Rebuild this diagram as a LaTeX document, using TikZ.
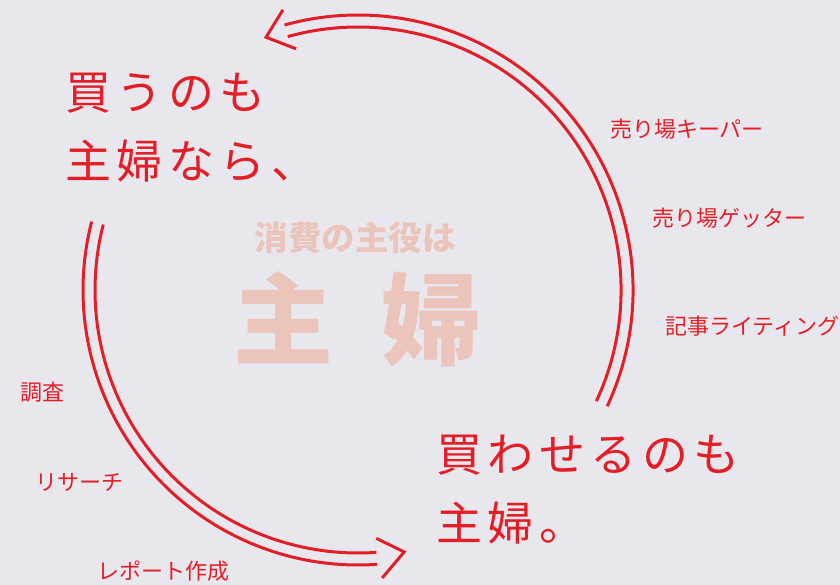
\documentclass[tikz,border=0pt]{standalone}
\usepackage{fontspec}
\newfontfamily\jpfont{Noto Sans CJK JP}
\usetikzlibrary{positioning}
\usetikzlibrary{calc}

\definecolor{cyclered}{RGB}{228,30,38}
\definecolor{softpink}{RGB}{235,197,187}
\definecolor{paper}{RGB}{233,231,238}

\tikzset{
  headline/.style={text=cyclered, anchor=west, align=left, inner sep=0pt,
    font=\jpfont\addfontfeature{LetterSpace=12}\fontsize{46}{69}\selectfont},
  tasklabel/.style={text=cyclered, anchor=west, inner sep=0pt,
    font=\jpfont\fontsize{22}{26}\selectfont},
  ring/.style={cyclered, line width=3pt},
}

\begin{document}
\begin{tikzpicture}[x=1pt, y=1pt]
%paper
\fill[paper] (0,0) rectangle (840,585);
\useasboundingbox (0,0) rectangle (840,585);

%centre of the cycle
\coordinate (ctr) at (358,295);

%upper arc, back to the top
\draw[ring] ([shift={(-25:275)}]ctr) arc[start angle=-25, end angle=105.5, radius=275];
\draw[ring] ([shift={(-25:263)}]ctr) arc[start angle=-25, end angle=105.5, radius=263];
\draw[ring, line join=miter] ([shift={(105:290)}]ctr) -- ([shift={(110:269)}]ctr) -- ([shift={(104.4:249)}]ctr);

%lower arc, down to the right
\draw[ring] ([shift={(165.6:275)}]ctr) arc[start angle=165.6, end angle=274, radius=275];
\draw[ring] ([shift={(165.6:263)}]ctr) arc[start angle=165.6, end angle=274, radius=263];
\draw[ring, line join=miter] ([shift={(274.2:249)}]ctr) -- ([shift={(280:266)}]ctr) -- ([shift={(274.8:289)}]ctr);

%middle
\node[text=softpink, inner sep=0pt, font=\jpfont\bfseries\fontsize{33.5}{36}\selectfont] (tagline) at (355,347) {消費の主役は};
\node[text=softpink, inner sep=0pt, font=\jpfont\bfseries\fontsize{100}{110}\selectfont] (shufu) at (357.5,266) {主\kern48pt婦};

%headlines
\node[headline] (buyer) at (65,457) {買うのも\\主婦なら、};
\node[headline] (seller) at (436,95) {買わせるのも\\主婦。};

%tasks on the right
\node[tasklabel] (keeper) at (610,456) {売り場キーパー};
\node[tasklabel] (getter) at (652,367) {売り場ゲッター};
\node[tasklabel] (writing) at (665,259) {記事ライティング};

%tasks on the left
\node[tasklabel] (survey) at (20,193) {調査};
\node[tasklabel] (research) at (35,103) {リサーチ};
\node[tasklabel] (report) at (97,14) {レポート作成};

\end{tikzpicture}
\end{document}
